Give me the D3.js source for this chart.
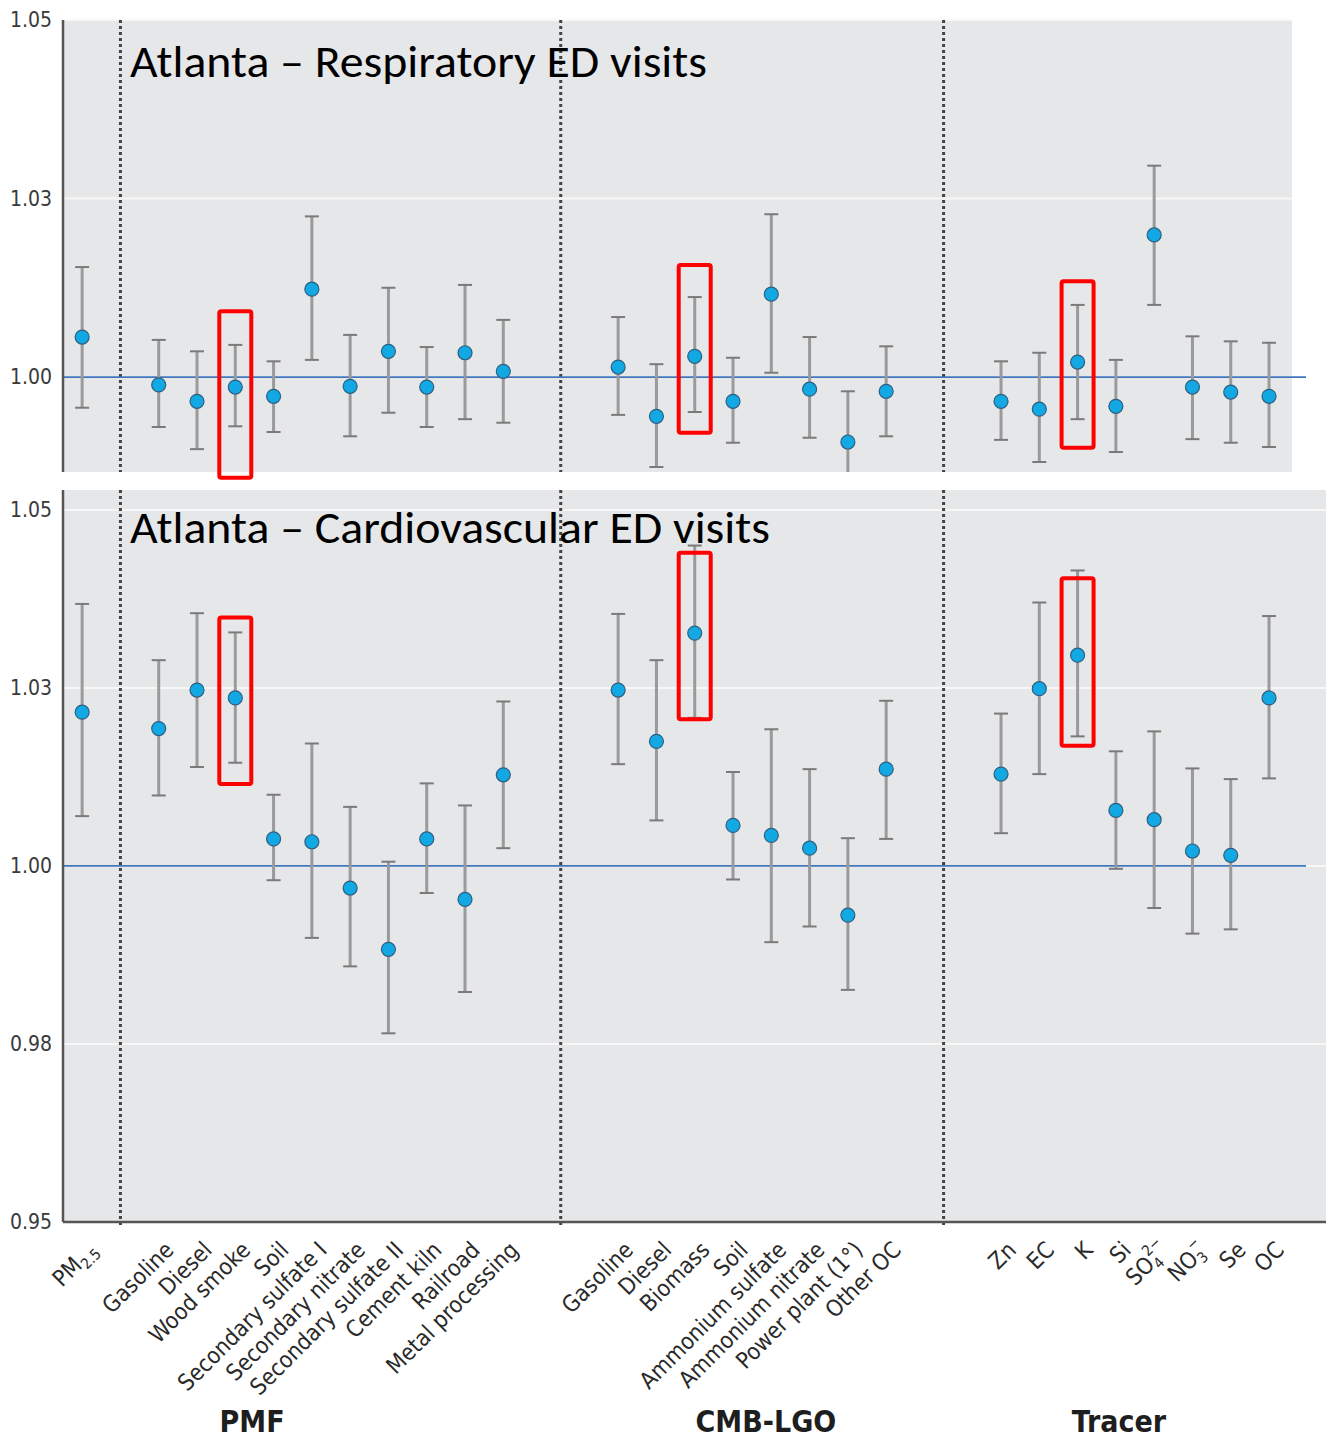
<!DOCTYPE html>
<html lang="en">
  <head>
    <meta charset="UTF-8" />
    <title>Atlanta ED visits - source apportionment</title>
    <script src="https://d3js.org/d3.v7.min.js"></script>
    <style>
      body {
        margin: 0;
        background: #fff;
      }
      .tick-label {
        font-family: "Liberation Sans Narrow", "DejaVu Sans Condensed", sans-serif;
        font-size: 21px;
        fill: #3a3a3a;
      }
      .cat-label {
        font-family: "Liberation Sans Narrow", "DejaVu Sans Condensed", sans-serif;
        font-size: 23px;
        fill: #2a2a2a;
      }
      .group-label {
        font-family: "Liberation Sans Narrow", "DejaVu Sans Condensed", sans-serif;
        font-weight: bold;
        font-size: 30px;
        fill: #1e1e1e;
      }
      .title {
        font-family: Carlito, Lato, "Open Sans", sans-serif;
        font-size: 46px;
        fill: #000;
      }
    </style>
  </head>
  <body>
    <svg id="svg" width="1326" height="1440"></svg>

    <script>
      // categories, per method group
      const catTotal = ["PM2.5"];
      const catPMF = ["Gasoline", "Diesel", "Wood smoke", "Soil", "Secondary sulfate I",
        "Secondary nitrate", "Secondary sulfate II", "Cement kiln", "Railroad", "Metal processing"];
      const catCMB = ["Gasoline", "Diesel", "Biomass", "Soil", "Ammonium sulfate",
        "Ammonium nitrate", "Power plant (1°)", "Other OC"];
      const catTracer = ["Zn", "EC", "K", "Si", "SO4", "NO3", "Se", "OC"];
      const groupNames = ["PMF", "CMB-LGO", "Tracer"];

      // y ticks (labels as printed on the figure)
      const tickValues = [0.95, 0.975, 1.0, 1.025, 1.05];
      const tickLabels = ["0.95", "0.98", "1.00", "1.03", "1.05"];

      // respiratory ED visits: rate ratio + 95% CI
      const respEst = [1.0056,
        0.9989, 0.9966, 0.9986, 0.9973, 1.0123, 0.9987, 1.0036, 0.9986, 1.0034, 1.0008,
        1.0014, 0.9945, 1.0029, 0.9966, 1.0116, 0.9983, 0.9909, 0.998,
        0.9966, 0.9955, 1.0021, 0.9959, 1.0199, 0.9986, 0.9979, 0.9973];
      const respLo = [0.9957,
        0.993, 0.9899, 0.9931, 0.9923, 1.0024, 0.9917, 0.995, 0.993, 0.9941, 0.9936,
        0.9947, 0.9874, 0.9951, 0.9908, 1.0006, 0.9915, 0.9838, 0.9917,
        0.9912, 0.9881, 0.9941, 0.9895, 1.0101, 0.9913, 0.9908, 0.9902];
      const respHi = [1.0154,
        1.0052, 1.0036, 1.0045, 1.0022, 1.0225, 1.0059, 1.0125, 1.0042, 1.0129, 1.008,
        1.0084, 1.0018, 1.0112, 1.0027, 1.0228, 1.0056, 0.998, 1.0043,
        1.0022, 1.0034, 1.0101, 1.0024, 1.0296, 1.0057, 1.005, 1.0048];

      // cardiovascular ED visits
      const cardEst = [1.0216,
        1.0193, 1.0247, 1.0236, 1.0038, 1.0034, 0.9969, 0.9883, 1.0038, 0.9953, 1.0128,
        1.0247, 1.0175, 1.0327, 1.0057, 1.0043, 1.0025, 0.9931, 1.0136,
        1.0129, 1.0249, 1.0296, 1.0078, 1.0065, 1.0021, 1.0015, 1.0236];
      const cardLo = [1.007,
        1.0099, 1.0139, 1.0145, 0.998, 0.9899, 0.9859, 0.9765, 0.9962, 0.9823, 1.0025,
        1.0143, 1.0064, 1.0208, 0.9981, 0.9893, 0.9915, 0.9826, 1.0038,
        1.0046, 1.0129, 1.0182, 0.9996, 0.9941, 0.9905, 0.9911, 1.0123];
      const cardHi = [1.0368,
        1.0289, 1.0355, 1.0328, 1.01, 1.0172, 1.0083, 1.0006, 1.0116, 1.0085, 1.0231,
        1.0354, 1.0289, 1.045, 1.0132, 1.0192, 1.0136, 1.0039, 1.0232,
        1.0214, 1.037, 1.0415, 1.0161, 1.0189, 1.0137, 1.0122, 1.0351];

      // red highlight boxes (category index into the 27 estimates, value range)
      const highlightIdx = [3, 13, 21];
      const respBox = [[0.9859, 1.0092], [0.9922, 1.0157], [0.9901, 1.0134]];
      const cardBox = [[1.0115, 1.0349], [1.0206, 1.044], [1.0169, 1.0404]];

      // ---- slot layout: gap of one after PM2.5, two between groups
      const groups = [catTotal, catPMF, catCMB, catTracer];
      const gaps = [0, 1, 2, 2];
      const slots = []; // slot index per estimate
      const sepSlots = [];
      let s = 0;
      groups.forEach((g, gi) => {
        if (gi > 0) {
          sepSlots.push(s - 1 + (gaps[gi] + 1) / 2);
          s += gaps[gi];
        }
        g.forEach((c) => {
          slots.push({ name: c, slot: s, group: gi });
          s++;
        });
      });
      const groupLabelSlot = [4.44, 17.86, 27.08];

      const svg = d3.select("#svg");
      const x = d3.scaleLinear().domain([-0.5, 31.6]).range([63, 1292]);

      const panels = [
        {
          title: "Atlanta \u2013 Respiratory ED visits", titleW: 577,
          est: respEst, lo: respLo, hi: respHi, box: respBox,
          top: 20, bottom: 472, domain: [0.9867, 1.05], right: 1292,
          titleY: 77, id: "p1",
        },
        {
          title: "Atlanta \u2013 Cardiovascular ED visits", titleW: 640,
          est: cardEst, lo: cardLo, hi: cardHi, box: cardBox,
          top: 490, bottom: 1222, domain: [0.95, 1.0528], right: 1326,
          titleY: 543, id: "p2",
        },
      ];

      panels.forEach((p) => {
        const y = d3.scaleLinear().domain(p.domain).range([p.bottom, p.top]);
        const left = x.range()[0];
        const g = svg.append("g");

        g.append("clipPath").attr("id", "clip-" + p.id)
          .append("rect")
          .attr("x", left).attr("y", p.top)
          .attr("width", p.right - left).attr("height", p.bottom - p.top);

        g.append("rect")
          .attr("x", left).attr("y", p.top)
          .attr("width", p.right - left).attr("height", p.bottom - p.top)
          .attr("fill", "#e6e7e9");

        const ticks = tickValues.filter((t) => t >= p.domain[0] - 1e-9 && t <= p.domain[1] + 1e-9);

        // white grid lines
        g.selectAll(".grid")
          .data(ticks.filter((t) => t > p.domain[0] + 1e-9))
          .enter()
          .append("line")
          .attr("x1", left).attr("x2", p.right)
          .attr("y1", (d) => y(d)).attr("y2", (d) => y(d))
          .attr("stroke", "#f7f7f7").attr("stroke-width", 2);

        // y axis
        const axis = d3.axisLeft(y)
          .tickValues(ticks)
          .tickFormat((d) => tickLabels[tickValues.indexOf(d)])
          .tickSize(0)
          .tickPadding(11);
        const ag = g.append("g").attr("transform", `translate(${left},0)`).call(axis);
        ag.select(".domain").remove();
        ag.selectAll("text").attr("class", "tick-label").attr("fill", null).attr("font-size", null).attr("font-family", null);

        // group separators
        g.selectAll(".sep")
          .data(sepSlots)
          .enter()
          .append("line")
          .attr("x1", (d) => x(d)).attr("x2", (d) => x(d))
          .attr("y1", p.top).attr("y2", p.id === "p2" ? p.bottom + 6 : p.bottom)
          .attr("stroke", "#444").attr("stroke-width", 3)
          .attr("stroke-dasharray", "3,3");

        // reference line at 1.00
        g.append("line")
          .attr("x1", left).attr("x2", 1306)
          .attr("y1", y(1)).attr("y2", y(1))
          .attr("stroke", "#3f76bd").attr("stroke-width", 1.8);

        // axis lines
        g.append("line")
          .attr("x1", left).attr("x2", left)
          .attr("y1", p.top).attr("y2", p.bottom)
          .attr("stroke", "#555").attr("stroke-width", 2.5);
        if (p.id === "p2") {
          g.append("line")
            .attr("x1", left).attr("x2", p.right)
            .attr("y1", p.bottom).attr("y2", p.bottom)
            .attr("stroke", "#555").attr("stroke-width", 2.5);
        }

        // error bars + points
        const data = slots.map((c, i) => ({ ...c, est: p.est[i], lo: p.lo[i], hi: p.hi[i] }));
        const marks = g.append("g").attr("clip-path", `url(#clip-${p.id})`);
        const eb = marks.selectAll(".eb").data(data).enter().append("g");
        eb.append("line")
          .attr("x1", (d) => x(d.slot)).attr("x2", (d) => x(d.slot))
          .attr("y1", (d) => y(d.hi)).attr("y2", (d) => y(d.lo))
          .attr("stroke", "#9a9a9a").attr("stroke-width", 3);
        ["hi", "lo"].forEach((k) => {
          eb.append("line")
            .attr("x1", (d) => x(d.slot) - 7).attr("x2", (d) => x(d.slot) + 7)
            .attr("y1", (d) => y(d[k])).attr("y2", (d) => y(d[k]))
            .attr("stroke", "#7a7a7a").attr("stroke-width", 2);
        });
        eb.append("circle")
          .attr("cx", (d) => x(d.slot)).attr("cy", (d) => y(d.est))
          .attr("r", 7)
          .attr("fill", "#12a8e4")
          .attr("stroke", "#2f5f80").attr("stroke-width", 1.2);

        // title
        g.append("text")
          .attr("class", "title")
          .attr("x", 130).attr("y", p.titleY)
          .attr("textLength", p.titleW)
          .attr("lengthAdjust", "spacingAndGlyphs")
          .text(p.title);

        // red highlight boxes (drawn unclipped)
        g.selectAll(".hl")
          .data(highlightIdx.map((idx, j) => ({ slot: slots[idx].slot, r: p.box[j] })))
          .enter()
          .append("rect")
          .attr("x", (d) => x(d.slot) - 16).attr("width", 32)
          .attr("y", (d) => y(d.r[1])).attr("height", (d) => y(d.r[0]) - y(d.r[1]))
          .attr("rx", 2)
          .attr("fill", "none").attr("stroke", "#ff0000").attr("stroke-width", 4);
      });

      // category labels under bottom panel
      const labY = 1240;
      const lab = svg.append("g")
        .selectAll(".cat")
        .data(slots)
        .enter()
        .append("text")
        .attr("class", "cat-label")
        .attr("text-anchor", "end")
        .attr("transform", (d) => `translate(${x(d.slot) + 5},${labY}) rotate(-45)`)
        .attr("dy", "0.7em");

      lab.each(function (d) {
        const t = d3.select(this);
        if (d.name === "PM2.5") {
          t.append("tspan").text("PM");
          t.append("tspan").attr("font-size", "15px").attr("dy", 5).text("2.5");
        } else if (d.name === "SO4") {
          t.append("tspan").text("SO");
          t.append("tspan").attr("font-size", "15px").attr("dy", 5).text("4");
          t.append("tspan").attr("font-size", "15px").attr("dx", -8).attr("dy", -17).text("2\u2212");
        } else if (d.name === "NO3") {
          t.append("tspan").text("NO");
          t.append("tspan").attr("font-size", "15px").attr("dy", 5).text("3");
          t.append("tspan").attr("font-size", "15px").attr("dx", -7).attr("dy", -17).text("\u2212");
        } else {
          t.text(d.name);
        }
      });

      // method group labels
      svg.append("g")
        .selectAll(".grp")
        .data(groupNames)
        .enter()
        .append("text")
        .attr("class", "group-label")
        .attr("text-anchor", "middle")
        .attr("x", (d, i) => x(groupLabelSlot[i]))
        .attr("y", 1432)
        .text((d) => d);
    </script>
  </body>
</html>
